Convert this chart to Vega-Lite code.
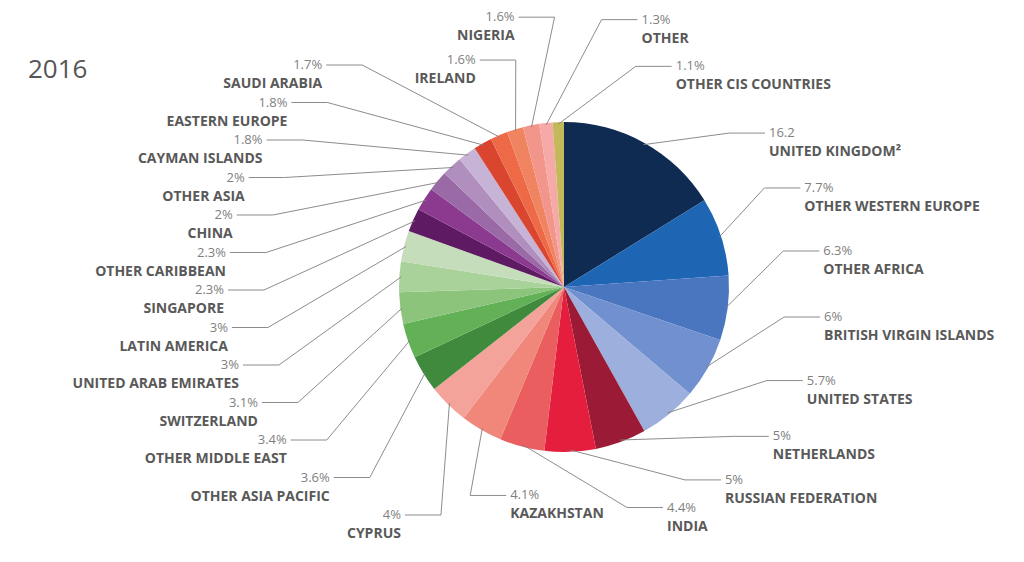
{
  "$schema": "https://vega.github.io/schema/vega-lite/v6.json",
  "width": 920,
  "height": 550,
  "autosize": {"type": "none"},
  "padding": {"left": 104, "top": 12, "right": 0, "bottom": 0},
  "background": "white",
  "config": {"view": {"stroke": null}},
  "title": {"text": "2016", "anchor": "start", "frame": "group", "orient": "top", "offset": 0, "baseline": "alphabetic", "dx": -76, "dy": 93, "font": "Open Sans", "fontSize": 26, "fontWeight": "normal", "color": "#555555"},
  "data": {"values": [
    {"region": "UNITED KINGDOM²", "share": 16.2, "label": "16.2"},
    {"region": "OTHER WESTERN EUROPE", "share": 7.7, "label": "7.7%"},
    {"region": "OTHER AFRICA", "share": 6.3, "label": "6.3%"},
    {"region": "BRITISH VIRGIN ISLANDS", "share": 6, "label": "6%"},
    {"region": "UNITED STATES", "share": 5.7, "label": "5.7%"},
    {"region": "NETHERLANDS", "share": 5, "label": "5%"},
    {"region": "RUSSIAN FEDERATION", "share": 5, "label": "5%"},
    {"region": "INDIA", "share": 4.4, "label": "4.4%"},
    {"region": "KAZAKHSTAN", "share": 4.1, "label": "4.1%"},
    {"region": "CYPRUS", "share": 4, "label": "4%"},
    {"region": "OTHER ASIA PACIFIC", "share": 3.6, "label": "3.6%"},
    {"region": "OTHER MIDDLE EAST", "share": 3.4, "label": "3.4%"},
    {"region": "SWITZERLAND", "share": 3.1, "label": "3.1%"},
    {"region": "UNITED ARAB EMIRATES", "share": 3, "label": "3%"},
    {"region": "LATIN AMERICA", "share": 3, "label": "3%"},
    {"region": "SINGAPORE", "share": 2.3, "label": "2.3%"},
    {"region": "OTHER CARIBBEAN", "share": 2.3, "label": "2.3%"},
    {"region": "CHINA", "share": 2, "label": "2%"},
    {"region": "OTHER ASIA", "share": 2, "label": "2%"},
    {"region": "CAYMAN ISLANDS", "share": 1.8, "label": "1.8%"},
    {"region": "EASTERN EUROPE", "share": 1.8, "label": "1.8%"},
    {"region": "SAUDI ARABIA", "share": 1.7, "label": "1.7%"},
    {"region": "IRELAND", "share": 1.6, "label": "1.6%"},
    {"region": "NIGERIA", "share": 1.6, "label": "1.6%"},
    {"region": "OTHER", "share": 1.3, "label": "1.3%"},
    {"region": "OTHER CIS COUNTRIES", "share": 1.1, "label": "1.1%"}
  ]},
  "transform": [
    {"window": [{"op": "row_number", "as": "rank"}, {"op": "sum", "field": "share", "as": "cum"}], "frame": [null, 0]},
    {"calculate": "datum.cum - datum.share", "as": "start"},
    {"calculate": "2 * PI * (datum.cum - datum.share / 2) / 100", "as": "a"},
    {"calculate": "163 * sin(datum.a)", "as": "sx"},
    {"calculate": "163 * cos(datum.a)", "as": "sy"},
    {"calculate": "datum.rank <= 9 ? 'R' : (datum.rank <= 22 ? 'L' : 'T')", "as": "grp"},
    {"calculate": "datum.grp == 'R' ? (datum.rank == 9 ? 205 : 48 + (datum.rank - 1) * 16.5) * PI / 180 : (348 + (datum.rank - 23) * 10) * PI / 180", "as": "phi"},
    {"calculate": "(datum.rank == 24 || datum.rank == 25) ? 270 : 232", "as": "rr"},
    {"calculate": "datum.grp == 'R' ? 230 * cos(datum.phi) : (datum.grp == 'T' ? datum.rr * cos(datum.phi) : -228 + (datum.rank - 10) * 37.5)", "as": "ey"},
    {"calculate": "datum.grp == 'R' ? 222 * sin(datum.phi) : (datum.grp == 'T' ? datum.rr * sin(datum.phi) : -300 * sqrt(max(0, 1 - pow(datum.ey / (datum.ey > 0 ? 300 : 250), 2))))", "as": "ex"},
    {"calculate": "(datum.grp == 'R' || (datum.grp == 'T' && datum.rank >= 25)) ? 1 : -1", "as": "dir"},
    {"calculate": "datum.ex + datum.dir * 36", "as": "px"}
  ],
  "layer": [
    {
      "mark": {"type": "arc", "outerRadius": 165},
      "encoding": {
        "theta": {"field": "start", "type": "quantitative", "scale": {"domain": [0, 100]}},
        "theta2": {"field": "cum"},
        "color": {"field": "region", "type": "nominal", "legend": null,
          "scale": {"domain": ["UNITED KINGDOM²", "OTHER WESTERN EUROPE", "OTHER AFRICA", "BRITISH VIRGIN ISLANDS", "UNITED STATES", "NETHERLANDS", "RUSSIAN FEDERATION", "INDIA", "KAZAKHSTAN", "CYPRUS", "OTHER ASIA PACIFIC", "OTHER MIDDLE EAST", "SWITZERLAND", "UNITED ARAB EMIRATES", "LATIN AMERICA", "SINGAPORE", "OTHER CARIBBEAN", "CHINA", "OTHER ASIA", "CAYMAN ISLANDS", "EASTERN EUROPE", "SAUDI ARABIA", "IRELAND", "NIGERIA", "OTHER", "OTHER CIS COUNTRIES"],
                    "range": ["#0f2b52", "#1e65b4", "#4a76c0", "#7190cf", "#9cafdd", "#9b1b36", "#e51e3e", "#eb5e60", "#f0877a", "#f3a39a", "#3f8a3c", "#62b157", "#8cc47c", "#a9d29b", "#c6ddbb", "#5e1a62", "#8b3a8f", "#9a6aa6", "#b08fbe", "#c7b3d5", "#d9452e", "#ee6a47", "#f08461", "#f2958a", "#f5aaa8", "#c3b95a"]}}
      }
    },
    {
      "mark": {"type": "rule", "color": "#7f7f7f", "strokeWidth": 0.9},
      "encoding": {
        "x": {"field": "sx", "type": "quantitative", "scale": {"domain": [-460, 460], "nice": false, "zero": false}, "axis": null},
        "y": {"field": "sy", "type": "quantitative", "scale": {"domain": [-275, 275], "nice": false, "zero": false}, "axis": null},
        "x2": {"field": "ex"},
        "y2": {"field": "ey"}
      }
    },
    {
      "mark": {"type": "rule", "color": "#7f7f7f", "strokeWidth": 0.9},
      "encoding": {
        "x": {"field": "ex", "type": "quantitative", "scale": {"domain": [-460, 460], "nice": false, "zero": false}, "axis": null},
        "y": {"field": "ey", "type": "quantitative", "scale": {"domain": [-275, 275], "nice": false, "zero": false}, "axis": null},
        "x2": {"field": "px"},
        "y2": {"field": "ey"}
      }
    },
    {
      "transform": [{"filter": "datum.dir > 0"}],
      "mark": {"type": "text", "align": "left", "baseline": "middle", "dx": 4, "font": "Open Sans", "fontSize": 13, "color": "#7f7f7f"},
      "encoding": {
        "x": {"field": "px", "type": "quantitative", "scale": {"domain": [-460, 460], "nice": false, "zero": false}, "axis": null},
        "y": {"field": "ey", "type": "quantitative", "scale": {"domain": [-275, 275], "nice": false, "zero": false}, "axis": null},
        "text": {"field": "label"}
      }
    },
    {
      "transform": [{"filter": "datum.dir < 0"}],
      "mark": {"type": "text", "align": "right", "baseline": "middle", "dx": -4, "font": "Open Sans", "fontSize": 13, "color": "#7f7f7f"},
      "encoding": {
        "x": {"field": "px", "type": "quantitative", "scale": {"domain": [-460, 460], "nice": false, "zero": false}, "axis": null},
        "y": {"field": "ey", "type": "quantitative", "scale": {"domain": [-275, 275], "nice": false, "zero": false}, "axis": null},
        "text": {"field": "label"}
      }
    },
    {
      "transform": [{"filter": "datum.dir > 0"}],
      "mark": {"type": "text", "align": "left", "baseline": "middle", "dx": 4, "dy": 19, "font": "Open Sans", "fontSize": 14, "fontWeight": "bold", "color": "#595959"},
      "encoding": {
        "x": {"field": "px", "type": "quantitative", "scale": {"domain": [-460, 460], "nice": false, "zero": false}, "axis": null},
        "y": {"field": "ey", "type": "quantitative", "scale": {"domain": [-275, 275], "nice": false, "zero": false}, "axis": null},
        "text": {"field": "region"}
      }
    },
    {
      "transform": [{"filter": "datum.dir < 0"}],
      "mark": {"type": "text", "align": "right", "baseline": "middle", "dx": -4, "dy": 19, "font": "Open Sans", "fontSize": 14, "fontWeight": "bold", "color": "#595959"},
      "encoding": {
        "x": {"field": "px", "type": "quantitative", "scale": {"domain": [-460, 460], "nice": false, "zero": false}, "axis": null},
        "y": {"field": "ey", "type": "quantitative", "scale": {"domain": [-275, 275], "nice": false, "zero": false}, "axis": null},
        "text": {"field": "region"}
      }
    }
  ]
}
